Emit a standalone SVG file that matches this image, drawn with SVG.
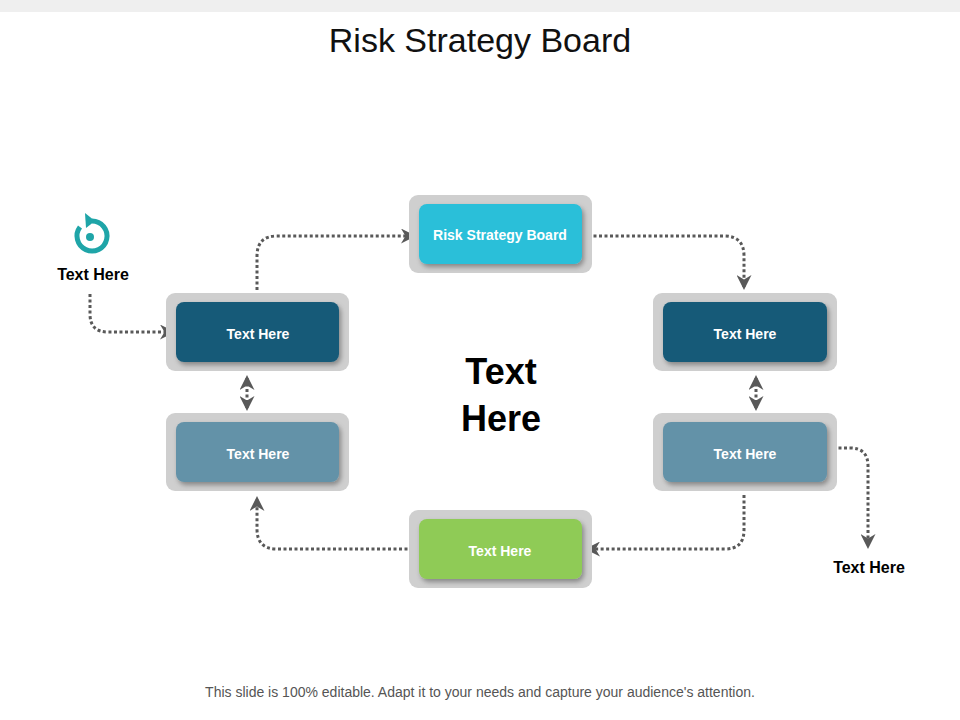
<svg xmlns="http://www.w3.org/2000/svg" width="960" height="720" viewBox="0 0 960 720">
<defs>
<style>
.t{font-family:"Liberation Sans",Arial,sans-serif;font-weight:bold;text-anchor:middle}
.w{fill:#fff;font-size:14px}
.outer{fill:#cfcfcf}
.c{fill:none;stroke:#595959;stroke-width:3;stroke-dasharray:3 2.5}
</style>
<marker id="a" viewBox="0 0 10 10" refX="8" refY="5" markerWidth="5" markerHeight="5" orient="auto-start-reverse" markerUnits="strokeWidth"><path d="M0,0 L10,5 L0,10 L3,5 Z" fill="#595959"/></marker>
<filter id="s" x="-10%" y="-20%" width="125%" height="150%"><feDropShadow dx="2" dy="3" stdDeviation="2.5" flood-color="#000" flood-opacity="0.35"/></filter>
</defs>
<rect width="960" height="12" fill="#efefef"/>
<text x="480" y="52" font-family="Liberation Sans,Arial,sans-serif" font-size="34" text-anchor="middle" fill="#111">Risk Strategy Board</text>
<g id="connectors">
<path class="c" d="M257,290 V256 Q257,236 277,236 H413" marker-end="url(#a)"/>
<path class="c" d="M588,236 H724 Q744,236 744,256 V287" marker-end="url(#a)"/>
<path class="c" d="M90,294 V314 Q90,332 108,332 H172" marker-end="url(#a)"/>
<path class="c" d="M247,378 V408" marker-start="url(#a)" marker-end="url(#a)"/>
<path class="c" d="M756,378 V408" marker-start="url(#a)" marker-end="url(#a)"/>
<path class="c" d="M833,448 H850 Q868,448 868,466 V546" marker-end="url(#a)"/>
<path class="c" d="M744,495 V530 Q744,549 725,549 H588" marker-end="url(#a)"/>
<path class="c" d="M413,549 H277 Q257,549 257,529 V499" marker-end="url(#a)"/>
</g>
<g id="n-top"><rect class="outer" x="409" y="195" width="183" height="78" rx="9"/><rect x="419" y="204" width="163" height="60" rx="8" fill="#29bfd9" filter="url(#s)"/><text class="t w" x="500" y="240">Risk Strategy Board</text></g>
<g id="n-l1"><rect class="outer" x="166" y="293" width="183" height="78" rx="9"/><rect x="176" y="302" width="163" height="60" rx="8" fill="#195a78" filter="url(#s)"/><text class="t w" x="258" y="339">Text Here</text></g>
<g id="n-l2"><rect class="outer" x="166" y="413" width="183" height="78" rx="9"/><rect x="176" y="422" width="163" height="60" rx="8" fill="#6492a8" filter="url(#s)"/><text class="t w" x="258" y="459">Text Here</text></g>
<g id="n-r1"><rect class="outer" x="653" y="293" width="184" height="78" rx="9"/><rect x="663" y="302" width="164" height="60" rx="8" fill="#195a78" filter="url(#s)"/><text class="t w" x="745" y="339">Text Here</text></g>
<g id="n-r2"><rect class="outer" x="653" y="413" width="184" height="78" rx="9"/><rect x="663" y="422" width="164" height="60" rx="8" fill="#6492a8" filter="url(#s)"/><text class="t w" x="745" y="459">Text Here</text></g>
<g id="n-bot"><rect class="outer" x="409" y="510" width="183" height="78" rx="9"/><rect x="419" y="519" width="163" height="60" rx="8" fill="#8fcb56" filter="url(#s)"/><text class="t w" x="500" y="556">Text Here</text></g>
<g id="center"><text class="t" x="501" y="384" font-size="36" fill="#000">Text</text><text class="t" x="501" y="431" font-size="36" fill="#000">Here</text></g>
<g id="icon">
<path d="M80,227 A15,15 0 1 0 92,221" fill="none" stroke="#1fa5a8" stroke-width="5"/>
<path d="M85,213 L95,221 L86,228 Z" fill="#1fa5a8"/>
<circle cx="90" cy="237" r="4" fill="#1fa5a8"/>
</g>
<text class="t" x="93" y="280" font-size="16" fill="#000">Text Here</text>
<text class="t" x="869" y="573" font-size="16" fill="#000">Text Here</text>
<text x="480" y="697" font-family="Liberation Sans,Arial,sans-serif" font-size="14" text-anchor="middle" fill="#555">This slide is 100% editable. Adapt it to your needs and capture your audience's attention.</text>
</svg>
